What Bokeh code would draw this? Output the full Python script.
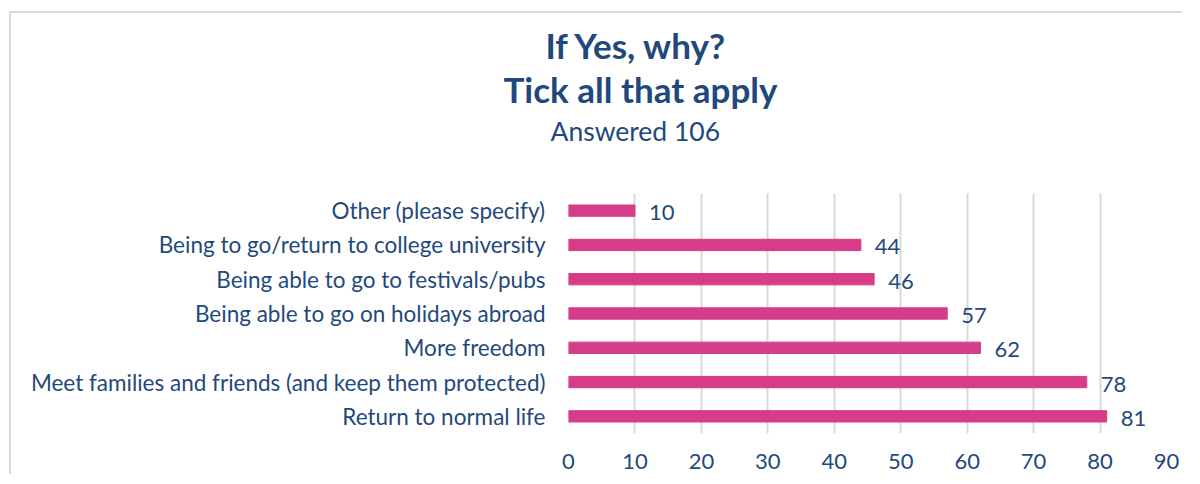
from bokeh.plotting import figure
from bokeh.models import FactorRange, Title, Range1d, FixedTicker
from bokeh.core.properties import value
from bokeh.embed import file_html
from bokeh.resources import INLINE

categories = [
    "Other (please specify)",
    "Being to go/return to college university",
    "Being able to go to festivals/pubs",
    "Being able to go on holidays abroad",
    "More freedom",
    "Meet families and friends (and keep them protected)",
    "Return to normal life",
]
counts = [10, 44, 46, 57, 62, 78, 81]
x_ticks = [0, 10, 20, 30, 40, 50, 60, 70, 80, 90]
title_lines = ["If Yes, why?", "Tick all that apply"]
subtitle = "Answered 106"

FONT = "Lato"
BLUE = "#1F497D"
PINK = "#D63C87"

p = figure(
    width=1173, height=463,
    y_range=FactorRange(factors=list(reversed(categories))),
    x_range=Range1d(0, 90),
    output_backend="svg", toolbar_location=None,
    min_border_left=557, min_border_right=18,
    min_border_top=180, min_border_bottom=43,
)
# chart-area border (top/left edges of the surrounding box)
p.margin = (11, 0, -8, 9)
p.styles = {"border-top": "2px solid #D9D9D9", "border-left": "2px solid #D9D9D9"}
p.outline_line_color = None
p.background_fill_color = "white"
p.border_fill_color = "white"

p.hbar(y=categories, right=counts, left=0, height=0.33, color=PINK)

p.text(x=counts, y=categories, text=[str(v) for v in counts],
       x_offset=14, y_offset=2, text_baseline="middle", text_align="left",
       text_font=value(FONT), text_font_size="22px", text_color=BLUE)

p.xaxis.ticker = FixedTicker(ticks=x_ticks)
for ax in (p.xaxis[0], p.yaxis[0]):
    ax.axis_line_color = None
    ax.major_tick_line_color = None
    ax.minor_tick_line_color = None
    ax.major_label_text_font = FONT
    ax.major_label_text_color = BLUE
p.xaxis.major_label_text_font_size = "22px"
p.yaxis.major_label_text_font_size = "22.5px"
p.xaxis.major_label_standoff = 14
p.yaxis.major_label_standoff = 17

p.xgrid.grid_line_color = "#D9D9D9"
p.xgrid.grid_line_width = 2
p.ygrid.grid_line_color = None

# titles stack upward from the plot frame: spacer, subtitle, line 2, line 1
p.add_layout(Title(text=" ", standoff=31, text_font_size="10px"), "above")
p.add_layout(Title(text=subtitle, align="left", offset=-18, standoff=6,
                   text_font=FONT, text_font_size="26.5px", text_font_style="normal",
                   text_color=BLUE), "above")
p.add_layout(Title(text=title_lines[1], align="left", offset=-65, standoff=0,
                   text_font=FONT, text_font_size="35px", text_font_style="bold",
                   text_color=BLUE), "above")
p.add_layout(Title(text=title_lines[0], align="left", offset=-23, standoff=0,
                   text_font=FONT, text_font_size="35px", text_font_style="bold",
                   text_color=BLUE), "above")

open("out.html", "w").write(file_html(p, INLINE))
